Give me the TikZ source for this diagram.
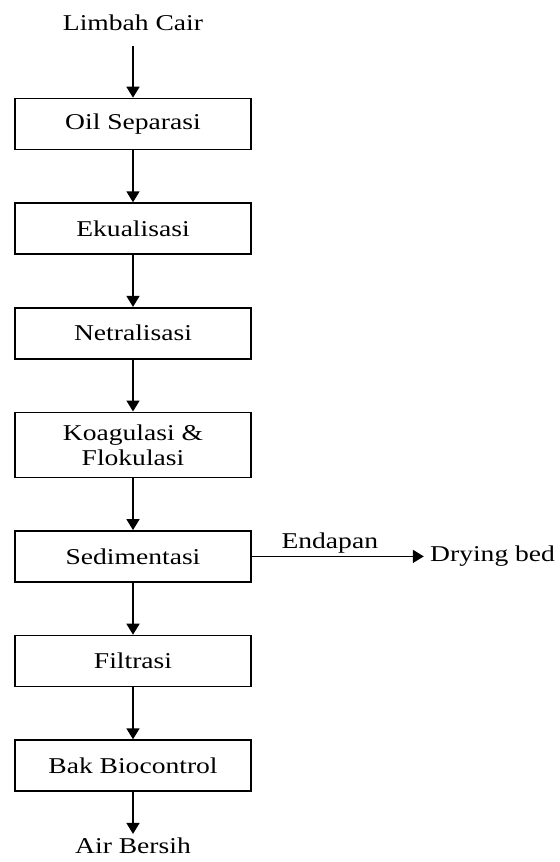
\documentclass[tikz,border=0pt]{standalone}
\usepackage{fontspec}
\setmainfont{Liberation Serif}[FakeStretch=1.22]
\usetikzlibrary{positioning, arrows.meta}

\begin{document}
\begin{tikzpicture}[x=0.5pt,y=-0.5pt,
	font=\fontsize{11.3}{12.5}\selectfont,
	node distance=26pt,
	proses/.style={draw, line width=0.8pt, minimum width=118pt, minimum height=25.5pt, align=center},
	alur/.style={-{Triangle[length=5.5pt,width=6.5pt]}, line width=0.8pt}]
	\useasboundingbox (0,0) rectangle (559,862);
	% tahapan pengolahan
	\node[proses] (oil) at (133,124) {Oil Separasi};
	\node[proses, below=of oil] (eku) {Ekualisasi};
	\node[proses, below=of eku] (netral) {Netralisasi};
	\node[proses, below=of netral, minimum height=32.5pt] (koag) {Koagulasi \&\\Flokulasi};
	\node[proses, below=of koag] (sedimen) {Sedimentasi};
	\node[proses, below=of sedimen] (filtrasi) {Filtrasi};
	\node[proses, below=of filtrasi] (bak) {Bak Biocontrol};
	% masukan dan keluaran
	\node[above=30pt of oil] (limbah) {Limbah Cair};
	\node[below=21pt of bak, inner sep=2pt] (air) {Air Bersih};
	\node[right=86pt of sedimen, inner sep=3pt] (drying) {Drying bed};
	% panah
	\draw[alur, shorten <=4pt] (limbah) -- (oil);
	\draw[alur] (oil) -- (eku);
	\draw[alur] (eku) -- (netral);
	\draw[alur] (netral) -- (koag);
	\draw[alur] (koag) -- (sedimen);
	\draw[alur] (sedimen) -- (filtrasi);
	\draw[alur] (filtrasi) -- (bak);
	\draw[alur] (bak) -- (air);
	\draw[alur] (sedimen) -- node[above, inner sep=1pt, xshift=-4pt] {Endapan} (drying);
\end{tikzpicture}
\end{document}
